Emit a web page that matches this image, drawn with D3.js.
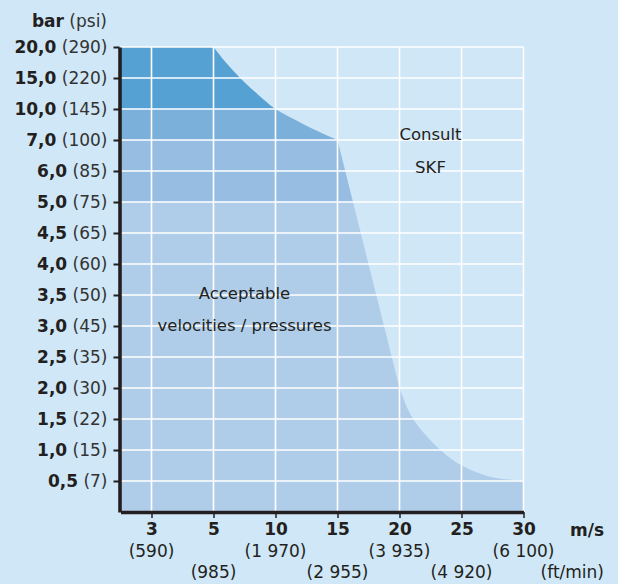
<!DOCTYPE html>
<html>
<head>
<meta charset="utf-8">
<script src="https://cdn.jsdelivr.net/npm/d3@7"></script>
<style>
  body { margin: 0; background: #d0e7f7; }
  text { font-family: "DejaVu Sans", sans-serif; fill: #231f20; }
</style>
</head>
<body>
<script>
// pressure ticks (bar) and their psi equivalents
const barTicks = [0.5, 1, 1.5, 2, 2.5, 3, 3.5, 4, 4.5, 5, 6, 7, 10, 15, 20];
const psiTicks = [7, 15, 22, 30, 35, 45, 50, 60, 65, 75, 85, 100, 145, 220, 290];
// velocity ticks (m/s) and ft/min equivalents
const msTicks = [3, 5, 10, 15, 20, 25, 30];
const ftTicks = ["590", "985", "1 970", "2 955", "3 935", "4 920", "6 100"];

// limit curve
const upperV = [5, 6.0, 7.15, 8.6, 10, 12.0, 13.6, 15];
const upperP = [20, 17.5, 15, 12.3, 10, 8.7, 7.75, 7];
const lowerV = [19.75, 20.1, 21.1, 23.3, 25.1, 27.3, 30];
const lowerP = [2.2, 1.95, 1.5, 1.0, 0.74, 0.57, 0.5];
const vMin = 2, vMax = 30, pMin = 0, pMax = 20;

// pressure bands and colours
const bandEdges = [0, 5, 7, 10, 20];
const bandColors = ["#afcde8", "#97bee2", "#7bb0da", "#56a1d3"];

const width = 618, height = 584;
const left = 120.5, stepX = 62;
const bottom = 512, stepY = 31;

const x = d3.scaleLinear()
  .domain([vMin].concat(msTicks))
  .range([left].concat(msTicks.map((d, i) => left + stepX / 2 + i * stepX)));
const y = d3.scaleLinear()
  .domain([pMin].concat(barTicks))
  .range([bottom].concat(barTicks.map((d, i) => bottom - (i + 1) * stepY)));

const svg = d3.select("body").append("svg")
  .attr("width", width)
  .attr("height", height);

svg.append("rect")
  .attr("width", width)
  .attr("height", height)
  .attr("fill", "#d0e7f7");

// outline of the acceptable area
const lin = d3.line().x(d => x(d[0])).y(d => y(d[1]));
const smooth = d3.line().x(d => x(d[0])).y(d => y(d[1])).curve(d3.curveCatmullRom.alpha(0.5));
const outline =
  lin([[vMin, pMin], [vMin, pMax], [upperV[0], pMax]]) +
  smooth(d3.zip(upperV, upperP)).replace(/^M/, "L") +
  smooth(d3.zip(lowerV, lowerP)).replace(/^M/, "L") +
  lin([[vMax, pMin]]).replace(/^M/, "L") + "Z";

svg.append("clipPath")
  .attr("id", "area")
  .append("path")
  .attr("d", outline);

svg.append("g")
  .attr("clip-path", "url(#area)")
  .selectAll("rect")
  .data(bandColors)
  .enter()
  .append("rect")
  .attr("x", x(vMin))
  .attr("width", x(vMax) - x(vMin))
  .attr("y", (d, i) => y(bandEdges[i + 1]))
  .attr("height", (d, i) => y(bandEdges[i]) - y(bandEdges[i + 1]))
  .attr("fill", d => d);

// white grid
const grid = svg.append("g").attr("stroke", "#fff").attr("stroke-width", 1.6);
grid.selectAll(".v")
  .data(msTicks)
  .enter()
  .append("line")
  .attr("x1", d => x(d)).attr("x2", d => x(d))
  .attr("y1", y(pMin)).attr("y2", y(pMax));
grid.selectAll(".h")
  .data(barTicks)
  .enter()
  .append("line")
  .attr("x1", x(vMin)).attr("x2", x(vMax))
  .attr("y1", d => y(d)).attr("y2", d => y(d));

// annotations
svg.append("g")
  .attr("font-size", 16.5)
  .attr("text-anchor", "middle")
  .selectAll("text")
  .data([
    ["Acceptable", 7.5, 3.5, 4],
    ["velocities / pressures", 7.5, 3, 4.5],
    ["Consult", 22.5, 7, 0],
    ["SKF", 22.5, 6, 1.5]
  ])
  .enter()
  .append("text")
  .attr("x", d => x(d[1]))
  .attr("y", d => y(d[2]) + d[3])
  .text(d => d[0]);

// y axis
const fmtBar = d3.format(".1f");
const yAxis = svg.append("g")
  .attr("transform", `translate(${left - 1},0)`)
  .call(d3.axisLeft(y).tickValues(barTicks).tickSize(6).tickSizeOuter(0).tickPadding(6));
yAxis.select(".domain").attr("stroke", "#231f20").attr("stroke-width", 3.6);
yAxis.selectAll(".tick line").attr("stroke", "#231f20").attr("stroke-width", 2);
yAxis.selectAll(".tick text")
  .attr("font-size", 17)
  .attr("font-family", null)
  .attr("dy", "0.35em")
  .each(function(d, i) {
    const t = d3.select(this);
    t.text(null);
    t.append("tspan").attr("font-weight", "bold").text(fmtBar(d).replace(".", ","));
    t.append("tspan").attr("fill", "#333").text(" (" + psiTicks[i] + ")");
  });

// x axis
const xAxis = svg.append("g")
  .attr("transform", `translate(0,${bottom})`)
  .call(d3.axisBottom(x).tickValues(msTicks).tickSize(6).tickSizeOuter(0).tickPadding(5));
xAxis.select(".domain").attr("stroke", "#231f20").attr("stroke-width", 3.4);
xAxis.selectAll(".tick line").attr("stroke", "#231f20").attr("stroke-width", 1.5);
xAxis.selectAll(".tick text")
  .attr("font-size", 17)
  .attr("font-family", null)
  .attr("font-weight", "bold");

svg.append("g")
  .attr("font-size", 17)
  .attr("fill", "#333")
  .attr("text-anchor", "middle")
  .selectAll("text")
  .data(ftTicks)
  .enter()
  .append("text")
  .attr("x", (d, i) => x(msTicks[i]))
  .attr("y", (d, i) => (i % 2 ? 578 : 556.5))
  .text(d => "(" + d + ")");

// unit labels
const barTitle = svg.append("text")
  .attr("x", 107)
  .attr("y", 26.5)
  .attr("font-size", 17)
  .attr("text-anchor", "end");
barTitle.append("tspan").attr("font-weight", "bold").text("bar");
barTitle.append("tspan").attr("fill", "#333").text(" (psi)");

svg.append("text")
  .attr("x", 604)
  .attr("y", 536)
  .attr("font-size", 17)
  .attr("font-weight", "bold")
  .attr("text-anchor", "end")
  .text("m/s");

svg.append("text")
  .attr("x", 604)
  .attr("y", 578)
  .attr("font-size", 17)
  .attr("fill", "#333")
  .attr("text-anchor", "end")
  .text("(ft/min)");
</script>
</body>
</html>
